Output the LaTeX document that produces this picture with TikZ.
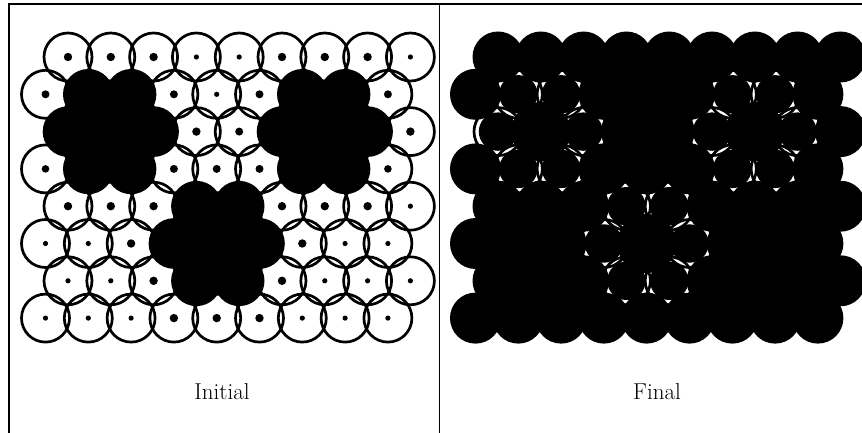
\documentclass[tikz,border=0pt]{standalone}
\tikzset{
  frameline/.style={line width=1.4pt, black},
  ringline/.style={line width=2.7pt, black},
  caption/.style={anchor=base, inner sep=0pt, font=\fontsize{23}{28}\selectfont}
}
\begin{document}
\begin{tikzpicture}[x=1pt,y=-1pt]
\useasboundingbox (0,0) rectangle (862,433);
\fill[white] (0,0) rectangle (862,433);
% frame
\draw[frameline] (9,433) -- (9,4) -- (862,4);
\draw[frameline] (439.5,4) -- (439.5,433);
% grid: code >0 = dot radius of a white cell, 0 = ring cell of a cluster, -1 = cluster centre
\foreach \j/\codes in {
  0/{4.2,4.2,4.2,2.6,2.6,4.2,4.2,4.2,2.6},
  1/{4.0,0,0,4.0,2.6,4.0,0,0,4.0},
  2/{0,-1,0,4.2,4.0,0,-1,0,4.2},
  3/{3.8,0,0,4.0,4.0,4.0,0,0,3.8},
  4/{4.2,4.2,4.2,0,0,4.2,4.2,4.2,2.6},
  5/{2.6,2.6,4.2,0,-1,0,4.2,2.6,2.6},
  6/{2.6,2.6,4.2,0,0,4.2,2.6,2.6,2.6},
  7/{2.6,2.6,2.6,4.2,4.2,4.2,2.6,2.6,2.6}} {
  \foreach \d [count=\i from 0] in \codes {
    \pgfmathsetmacro{\xx}{(mod(\j,2)==0 ? 68 : 45.5) + \i*42.8}
    \pgfmathsetmacro{\yy}{57 + \j*37.3}
    \pgfmathsetmacro{\xf}{\xx + 430}
    \ifdim \d pt > 0pt
      % initial: open cell with a dot
      \draw[ringline] (\xx,\yy) circle[radius=24pt];
      \fill (\xx,\yy) circle[radius=\d pt];
      % final: solid cell
      \fill (\xf,\yy) circle[radius=25.5pt];
    \else
      \fill (\xx,\yy) circle[radius=25.3pt];
      \ifdim \d pt < 0pt
        \fill (\xf,\yy) circle[radius=29.5pt];
      \else
        \fill (\xf,\yy) circle[radius=19.2pt];
        \draw[ringline] (\xf,\yy) circle[radius=24pt];
      \fi
    \fi
  }
}
\node[caption] (initial) at (222,399) {Initial};
\node[caption] (final) at (657,399) {Final};
\end{tikzpicture}
\end{document}
